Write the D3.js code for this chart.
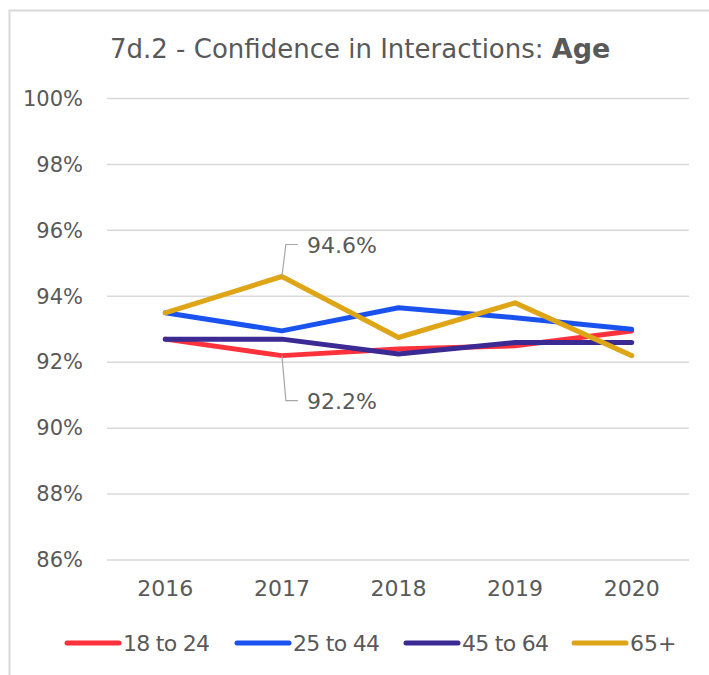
<!DOCTYPE html>
<html>
<head>
<meta charset="utf-8">
<script src="https://cdn.jsdelivr.net/npm/d3@7"></script>
<style>
  body { margin: 0; background: #fff; }
  text { font-family: "DejaVu Sans", "Open Sans", sans-serif; fill: #595959; }
</style>
</head>
<body>
<svg id="chart" width="709" height="675"></svg>
<script>
// data
var years = ["2016", "2017", "2018", "2019", "2020"];
var seriesNames = ["18 to 24", "25 to 44", "45 to 64", "65+"];
var seriesColors = ["#FF313B", "#1A52F0", "#3B2A94", "#DEA517"];
var age18to24 = [92.7, 92.2, 92.4, 92.5, 92.95];
var age25to44 = [93.5, 92.95, 93.65, 93.35, 93.0];
var age45to64 = [92.7, 92.7, 92.25, 92.6, 92.6];
var age65plus = [93.5, 94.6, 92.75, 93.8, 92.2];
var yTicks = [86, 88, 90, 92, 94, 96, 98, 100];

var allSeries = [age18to24, age25to44, age45to64, age65plus];

var svg = d3.select("#chart");

// chart frame (left and top edges only show in the picture)
svg.append("path")
    .attr("d", "M9.5,675 L9.5,10.5 L709,10.5")
    .attr("fill", "none")
    .attr("stroke", "#d9d9d9")
    .attr("stroke-width", 2);

// title
var title = svg.append("text")
    .attr("x", 110)
    .attr("y", 58)
    .attr("font-size", 26);
title.append("tspan").text("7d.2 - Confidence in Interactions:  ");
title.append("tspan").attr("font-weight", "bold").attr("font-size", 27).text("Age");

var x = d3.scaleBand().domain(years).range([107, 690]);
var y = d3.scaleLinear().domain([86, 100]).range([560, 98.5]);

// gridlines
svg.append("g")
    .selectAll("line")
    .data(yTicks)
    .enter()
    .append("line")
    .attr("x1", 107)
    .attr("x2", 689)
    .attr("y1", function (d) { return y(d); })
    .attr("y2", function (d) { return y(d); })
    .attr("stroke", "#d9d9d9")
    .attr("stroke-width", 1.5);

// y axis labels
var yAxis = d3.axisLeft(y)
    .tickValues(yTicks)
    .tickSize(0)
    .tickPadding(0)
    .tickFormat(function (d) { return d + "%"; });
var gy = svg.append("g").attr("transform", "translate(83,0)").call(yAxis);
gy.select(".domain").remove();
gy.selectAll("text").attr("font-size", 21).attr("fill", "#595959").attr("font-family", null);

// x axis labels
var xAxis = d3.axisBottom(x).tickSize(0).tickPadding(0);
var gx = svg.append("g").attr("transform", "translate(0,580)").call(xAxis);
gx.select(".domain").remove();
gx.selectAll("text").attr("font-size", 22).attr("fill", "#595959").attr("font-family", null);

// lines
var line = d3.line()
    .x(function (d, i) { return x(years[i]) + x.bandwidth() / 2; })
    .y(function (d) { return y(d); });

svg.append("g")
    .selectAll("path")
    .data(allSeries)
    .enter()
    .append("path")
    .attr("d", line)
    .attr("fill", "none")
    .attr("stroke", function (d, i) { return seriesColors[i]; })
    .attr("stroke-width", 5)
    .attr("stroke-linejoin", "round")
    .attr("stroke-linecap", "round");

// data labels with leader lines
var cx2017 = x("2017") + x.bandwidth() / 2;
var labels = [
    { v: age65plus[1], dy: -32, text: "94.6%" },
    { v: age18to24[1], dy: 45, text: "92.2%" }
];
labels.forEach(function (l) {
    var py = y(l.v);
    var ly = py + l.dy;
    svg.append("path")
        .attr("d", "M" + cx2017 + "," + py + " L" + (cx2017 + 4) + "," + ly + " L" + (cx2017 + 16) + "," + ly)
        .attr("fill", "none")
        .attr("stroke", "#a6a6a6")
        .attr("stroke-width", 1.2);
    svg.append("text")
        .attr("x", cx2017 + 25)
        .attr("y", ly + 8)
        .attr("font-size", 22)
        .text(l.text);
});

// legend
var legendX = [65, 235, 404, 572];
var legend = svg.append("g")
    .selectAll("g")
    .data(seriesNames)
    .enter()
    .append("g")
    .attr("transform", function (d, i) { return "translate(" + legendX[i] + ",643)"; });
legend.append("line")
    .attr("x1", 2)
    .attr("x2", 54)
    .attr("stroke", function (d, i) { return seriesColors[i]; })
    .attr("stroke-width", 5)
    .attr("stroke-linecap", "round");
legend.append("text")
    .attr("x", 58)
    .attr("y", 8)
    .attr("font-size", 22)
    .attr("textLength", function (d) { return d.length > 3 ? 87 : null; })
    .text(function (d) { return d; });
</script>
</body>
</html>
